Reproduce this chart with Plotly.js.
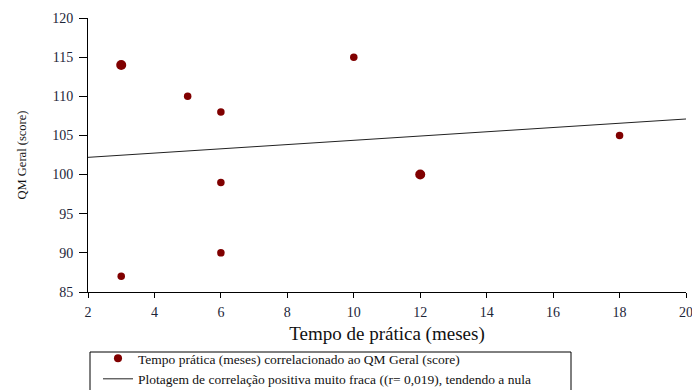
<!DOCTYPE html>
<html>
<head>
<meta charset="utf-8">
<script src="https://cdn.plot.ly/plotly-3.0.1.min.js"></script>
<style>html,body{margin:0;padding:0;background:#fff;overflow:hidden;}#chart{width:692px;height:420px;}</style>
</head>
<body>
<div id="chart"></div>
<script>
// Data
const practiceMonths = [3, 3, 5, 6, 6, 6, 10, 12, 18];
const qmScore = [114, 87, 110, 108, 99, 90, 115, 100, 105];
const pointCount = [2, 1, 1, 1, 1, 1, 1, 2, 1]; // overlapping observations (drawn larger)
const trendX = [2, 20];
const trendY = [102.2, 107.1];
const xTicks = [2, 4, 6, 8, 10, 12, 14, 16, 18, 20];
const yTicks = [85, 90, 95, 100, 105, 110, 115, 120];
const scatterName = 'Tempo prática (meses) correlacionado ao QM Geral (score)';
const lineName = 'Plotagem de correlação positiva muito fraca ((r= 0,019), tendendo a nula';

const serif = 'Liberation Serif, Times New Roman, serif';
const sizes = pointCount.map(c => c > 1 ? 10 : 7.5);

const traces = [
  {
    x: practiceMonths, y: qmScore, type: 'scatter', mode: 'markers',
    name: scatterName,
    opacity: 1,
    marker: {color: '#800000', size: sizes, opacity: 1, line: {width: 0}}
  },
  {
    x: trendX, y: trendY, type: 'scatter', mode: 'lines',
    name: lineName,
    line: {color: '#222222', width: 1}
  }
];

const H = 420;
const plotTop = 18, plotBottom = 292, plotLeft = 88, plotW = 598;
const ph = plotBottom - plotTop;
const px = v => (v - plotLeft) / plotW;      // pixel -> paper x
const py = v => (plotBottom - v) / ph;       // pixel -> paper y

const layout = {
  width: 692, height: H,
  margin: {l: plotLeft, r: 692 - plotLeft - plotW, t: plotTop, b: H - plotBottom},
  paper_bgcolor: '#ffffff', plot_bgcolor: '#ffffff',
  font: {family: serif, color: '#1a1a1a', size: 13},
  showlegend: true,
  xaxis: {
    range: [2, 20], tickvals: xTicks, ticktext: xTicks.map(String),
    showgrid: false, zeroline: false, showline: true, linecolor: '#000', linewidth: 1,
    ticks: 'outside', ticklen: 5, tickcolor: '#000', tickwidth: 1,
    ticklabeloverflow: 'allow', ticklabelstandoff: 2,
    tickfont: {family: serif, size: 14, color: '#1c2538'},
    title: {text: 'Tempo de prática (meses)', font: {family: serif, size: 19, color: '#111'}, standoff: 7}
  },
  yaxis: {
    range: [85, 120], tickvals: yTicks, ticktext: yTicks.map(String),
    showgrid: false, zeroline: false, showline: true, linecolor: '#000', linewidth: 1,
    ticks: 'outside', ticklen: 8, tickcolor: '#000', tickwidth: 1,
    ticklabelstandoff: 3,
    tickfont: {family: serif, size: 14, color: '#1c2538'},
    title: {text: 'QM Geral (score)', font: {family: serif, size: 12.5, color: '#111'}, standoff: 22}
  },
  legend: {
    x: px(98), y: py(343),
    xanchor: 'left', yanchor: 'top',
    borderwidth: 0, bgcolor: 'rgba(0,0,0,0)',
    font: {family: serif, size: 13.5, color: '#111'},
    tracegroupgap: 0
  },
  shapes: [{
    type: 'rect', xref: 'paper', yref: 'paper', layer: 'below',
    x0: px(90), x1: px(571), y0: py(352), y1: py(410),
    line: {color: '#000', width: 1}, fillcolor: 'rgba(0,0,0,0)'
  }]
};

Plotly.newPlot('chart', traces, layout, {displayModeBar: false, staticPlot: true});
</script>
</body>
</html>
